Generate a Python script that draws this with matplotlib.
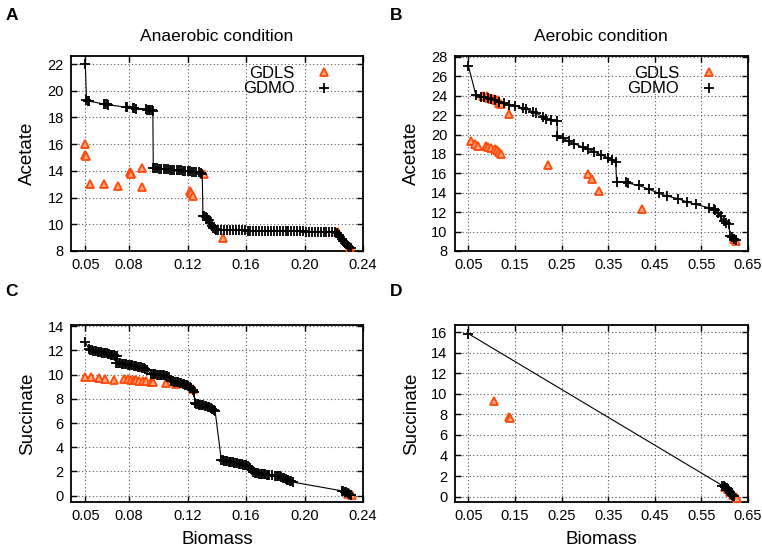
import matplotlib
matplotlib.use("Agg")
import matplotlib.pyplot as plt
from matplotlib.lines import Line2D

plt.rcParams['font.family'] = ['Liberation Sans', 'DejaVu Sans']

# ---------------- Panel A: anaerobic, acetate ----------------
a_mo_x = [0.0500, 0.0508, 0.0515, 0.0525, 0.0630, 0.0638, 0.0645, 0.0652, 0.0775, 0.0785,
          0.0825, 0.0835, 0.0845, 0.0915, 0.0925, 0.0935, 0.0945, 0.0955, 0.0962,
          0.0965, 0.0975, 0.0990, 0.1005, 0.1020, 0.1035, 0.1050, 0.1065, 0.1080, 0.1095,
          0.1110, 0.1125, 0.1140, 0.1155, 0.1170, 0.1185, 0.1200, 0.1215, 0.1230, 0.1245,
          0.1260, 0.1275, 0.1290, 0.1300,
          0.1305, 0.1315, 0.1325, 0.1335, 0.1345, 0.1355, 0.1365, 0.1375, 0.1385, 0.1395,
          0.141, 0.143, 0.145, 0.147, 0.149, 0.151, 0.153, 0.155, 0.157, 0.159,
          0.161, 0.163, 0.165, 0.167, 0.169, 0.171, 0.173, 0.175, 0.177, 0.179,
          0.181, 0.183, 0.185, 0.187, 0.189, 0.191, 0.193, 0.195, 0.197, 0.199,
          0.201, 0.203, 0.205, 0.207, 0.209, 0.211, 0.213, 0.215, 0.217, 0.219, 0.221,
          0.2225, 0.2235, 0.2245, 0.2255, 0.2265, 0.2275, 0.2285, 0.2295, 0.2305, 0.2315]
a_mo_y = [22.00, 19.30, 19.25, 19.22, 19.00, 18.98, 18.97, 18.95, 18.78, 18.76,
          18.70, 18.68, 18.66, 18.60, 18.58, 18.56, 18.55, 18.53, 18.50,
          14.25, 14.20, 14.19, 14.17, 14.15, 14.14, 14.12, 14.11, 14.10, 14.08,
          14.07, 14.06, 14.04, 14.03, 14.01, 14.00, 13.99, 13.97, 13.95, 13.93,
          13.91, 13.88, 13.84, 13.80,
          10.65, 10.60, 10.55, 10.50, 10.30, 10.10, 9.90, 9.75, 9.62, 9.58,
          9.57, 9.57, 9.56, 9.56, 9.56, 9.55, 9.55, 9.55, 9.54, 9.54,
          9.53, 9.53, 9.53, 9.52, 9.52, 9.51, 9.51, 9.50, 9.50, 9.50,
          9.49, 9.49, 9.48, 9.48, 9.48, 9.47, 9.47, 9.46, 9.46, 9.46,
          9.45, 9.45, 9.44, 9.44, 9.44, 9.43, 9.43, 9.42, 9.42, 9.41, 9.40,
          9.35, 9.20, 9.05, 8.90, 8.75, 8.62, 8.50, 8.40, 8.30, 8.25]
a_ls_x = [0.0500, 0.0500, 0.0502, 0.0535, 0.0630, 0.0722, 0.0805, 0.0810, 0.0815, 0.0888,
          0.0888, 0.1215, 0.1220, 0.1235, 0.1310, 0.1440, 0.2230, 0.2310]
a_ls_y = [16.00, 15.20, 15.10, 13.00, 13.00, 12.90, 13.90, 13.85, 13.80, 14.25,
          12.80, 12.50, 12.35, 12.15, 13.80, 9.00, 9.40, 8.30]

# ---------------- Panel B: aerobic, acetate ----------------
b_mo_x = [0.050, 0.066, 0.077, 0.084, 0.091, 0.099, 0.106, 0.116, 0.127, 0.138, 0.149,
          0.166, 0.174, 0.188, 0.195, 0.209, 0.216, 0.227, 0.240,
          0.241, 0.252, 0.266, 0.277, 0.295, 0.306, 0.320, 0.334, 0.349, 0.359, 0.366,
          0.368, 0.388, 0.392, 0.416, 0.438, 0.459, 0.477, 0.499, 0.520, 0.538, 0.566,
          0.576, 0.580, 0.586, 0.591, 0.598, 0.603, 0.609,
          0.611, 0.616, 0.620, 0.624]
b_mo_y = [27.05, 24.05, 23.92, 23.85, 23.78, 23.65, 23.55, 23.35, 23.25, 23.10, 22.95,
          22.75, 22.62, 22.35, 22.22, 21.85, 21.65, 21.55, 21.40,
          19.85, 19.62, 19.30, 19.05, 18.72, 18.52, 18.22, 17.92, 17.62, 17.42, 17.22,
          15.10, 15.10, 15.00, 14.76, 14.35, 13.94, 13.66, 13.40, 13.04, 12.80, 12.46,
          12.35, 12.20, 11.90, 11.60, 11.10, 10.90, 10.75,
          9.55, 9.40, 9.25, 9.10]
b_ls_x = [0.082, 0.089, 0.095, 0.100, 0.105, 0.110, 0.114, 0.116, 0.120, 0.1364,
          0.0557, 0.0640, 0.0700, 0.0880, 0.0910, 0.0990, 0.1060, 0.1110, 0.1160, 0.1200,
          0.2200, 0.3070, 0.3160, 0.3310, 0.4220, 0.6200, 0.6240]
b_ls_y = [24.00, 23.95, 23.80, 23.70, 23.65, 23.60, 23.55, 23.27, 23.20, 22.17,
          19.30, 18.98, 18.80, 18.87, 18.75, 18.60, 18.50, 18.40, 18.20, 17.95,
          16.82, 15.96, 15.38, 14.17, 12.29, 9.20, 9.05]

# ---------------- Panel C: anaerobic, succinate ----------------
c_mo_x = [0.0500,
          0.0525, 0.0535, 0.0545, 0.0555, 0.0565, 0.0575, 0.0585, 0.0595, 0.0605, 0.0615,
          0.0625, 0.0635, 0.0645, 0.0655, 0.0665, 0.0675, 0.0685, 0.0695, 0.0705, 0.0715,
          0.0710, 0.0720, 0.0730, 0.0740, 0.0750, 0.0760, 0.0770, 0.0780, 0.0790, 0.0800,
          0.0810, 0.0820, 0.0830, 0.0840, 0.0850, 0.0860, 0.0870, 0.0880, 0.0890, 0.0900,
          0.0910, 0.0920,
          0.0950, 0.0960, 0.0970, 0.0980, 0.0990, 0.1000, 0.1010, 0.1020, 0.1030, 0.1040,
          0.1050, 0.1060, 0.1070,
          0.1085, 0.1095, 0.1105, 0.1115, 0.1125, 0.1135, 0.1145, 0.1155, 0.1165, 0.1175,
          0.1185, 0.1195, 0.1205, 0.1215, 0.1225, 0.1235, 0.1245,
          0.1248, 0.1258, 0.1268, 0.1278, 0.1288, 0.1298, 0.1308, 0.1318, 0.1328, 0.1338,
          0.1348, 0.1358, 0.1368, 0.1378, 0.1388,
          0.1430, 0.1440, 0.1450, 0.1460, 0.1470, 0.1480, 0.1490, 0.1500, 0.1510, 0.1520,
          0.1530, 0.1540, 0.1550, 0.1560, 0.1570, 0.1580, 0.1590, 0.1600, 0.1610, 0.1620,
          0.1630, 0.1640, 0.1650, 0.1660, 0.1670, 0.1680, 0.1690, 0.1700, 0.1710, 0.1720,
          0.1730, 0.1740, 0.1750, 0.1760, 0.1780, 0.1800, 0.1810, 0.1820, 0.1830, 0.1840,
          0.1850, 0.1860, 0.1870, 0.1880, 0.1890, 0.1900, 0.1910, 0.1920,
          0.2255, 0.2265, 0.2275, 0.2285, 0.2295, 0.2305, 0.2315, 0.2320]
c_mo_y = [12.70,
          12.10, 12.05, 12.02, 11.99, 11.96, 11.93, 11.90, 11.87, 11.85, 11.82,
          11.80, 11.77, 11.75, 11.72, 11.69, 11.66, 11.63, 11.60, 11.55, 11.50,
          11.00, 10.97, 10.95, 10.92, 10.90, 10.88, 10.86, 10.84, 10.82, 10.80,
          10.78, 10.76, 10.74, 10.72, 10.69, 10.66, 10.63, 10.60, 10.56, 10.52,
          10.47, 10.42,
          10.05, 10.04, 10.03, 10.02, 10.01, 10.00, 9.99, 9.98, 9.96, 9.94,
          9.91, 9.87, 9.82,
          9.48, 9.45, 9.43, 9.41, 9.39, 9.36, 9.33, 9.30, 9.26, 9.22,
          9.17, 9.11, 9.04, 8.96, 8.86, 8.74, 8.60,
          7.65, 7.58, 7.55, 7.52, 7.50, 7.48, 7.46, 7.43, 7.40, 7.36,
          7.31, 7.25, 7.18, 7.10, 7.02,
          2.98, 2.93, 2.90, 2.86, 2.83, 2.81, 2.80, 2.78, 2.75, 2.72,
          2.70, 2.68, 2.65, 2.62, 2.60, 2.57, 2.54, 2.50, 2.45, 2.38,
          2.25, 2.08, 1.95, 1.90, 1.87, 1.85, 1.83, 1.82, 1.80, 1.78,
          1.76, 1.74, 1.72, 1.70, 1.68, 1.66, 1.65, 1.63, 1.60, 1.55,
          1.48, 1.42, 1.37, 1.32, 1.27, 1.22, 1.17, 1.12,
          0.40, 0.36, 0.32, 0.27, 0.20, 0.12, 0.06, 0.02]
c_ls_x = [0.0500, 0.0539, 0.0596, 0.0637, 0.0699, 0.0767, 0.0790, 0.0813, 0.0830, 0.0847,
          0.0870, 0.0893, 0.0916, 0.0950, 0.0961, 0.1053, 0.1121, 0.1240, 0.2300, 0.2325]
c_ls_y = [9.83, 9.77, 9.69, 9.64, 9.55, 9.60, 9.60, 9.55, 9.57, 9.55,
          9.50, 9.47, 9.44, 9.42, 9.40, 9.28, 9.22, 8.85, 0.15, 0.05]

# ---------------- Panel D: aerobic, succinate ----------------
d_mo_x = [0.050, 0.595, 0.598, 0.601, 0.604, 0.606, 0.608, 0.610, 0.612, 0.614, 0.616, 0.618, 0.620]
d_mo_y = [15.85, 1.07, 0.98, 0.90, 0.85, 0.78, 0.60, 0.50, 0.38, 0.25, 0.12, 0.05, 0.02]
d_ls_x = [0.1057, 0.1379, 0.1390, 0.600, 0.607, 0.612, 0.618, 0.624, 0.627]
d_ls_y = [9.33, 7.77, 7.62, 0.95, 0.70, 0.45, 0.20, 0.00, -0.10]

labels = ["GDLS", "GDMO"]
titles = ["Anaerobic condition", "Aerobic condition"]
panel_letters = ["A", "B", "C", "D"]

ORANGE = '#ff4a0a'
ORANGE_FILL = '#ffa47a'

fig = plt.figure(figsize=(7.62, 5.53), dpi=100)
W, H = 762.0, 553.0

def make_ax(l, r, t, b):
    return fig.add_axes([l / W, 1 - b / H, (r - l) / W, (b - t) / H])

axA = make_ax(70.7, 363.0, 56.0, 251.0)
axB = make_ax(454.5, 748.0, 56.0, 251.0)
axC = make_ax(70.7, 363.0, 325.0, 501.7)
axD = make_ax(454.5, 748.0, 325.0, 501.7)

panels = [
    (axA, a_mo_x, a_mo_y, a_ls_x, a_ls_y),
    (axB, b_mo_x, b_mo_y, b_ls_x, b_ls_y),
    (axC, c_mo_x, c_mo_y, c_ls_x, c_ls_y),
    (axD, d_mo_x, d_mo_y, d_ls_x, d_ls_y),
]

for ax, mx, my, lx, ly in panels:
    ax.plot(lx, ly, linestyle='none', marker='^', markersize=6.2,
            markerfacecolor=ORANGE_FILL, markeredgecolor=ORANGE, markeredgewidth=1.3, zorder=3)
    ax.plot(mx, my, color='black', linewidth=0.8, zorder=4)
    ax.plot(mx, my, linestyle='none', marker='+', markersize=6.5,
            color='black', markeredgewidth=1.3, zorder=5)
    ax.grid(True, color='#555555', linestyle=(0, (1, 2.2)), linewidth=0.8)
    ax.set_axisbelow(True)
    ax.tick_params(direction='in', top=True, right=True, length=4, width=1,
                   labelsize=10.5, pad=5)
    for s in ax.spines.values():
        s.set_linewidth(1.3)

for ax in (axA, axC):
    ax.set_xlim(0.04, 0.24)
    ax.set_xticks([0.05, 0.08, 0.12, 0.16, 0.20, 0.24])
    ax.set_xticklabels(["0.05", "0.08", "0.12", "0.16", "0.20", "0.24"])
for ax in (axB, axD):
    ax.set_xlim(0.02, 0.65)
    ax.set_xticks([0.05, 0.15, 0.25, 0.35, 0.45, 0.55, 0.65])
    ax.set_xticklabels(["0.05", "0.15", "0.25", "0.35", "0.45", "0.55", "0.65"])

axA.set_ylim(8, 22.6)
axA.set_yticks(range(8, 23, 2))
axB.set_ylim(8, 28.1)
axB.set_yticks(range(8, 29, 2))
axC.set_ylim(-0.5, 14.1)
axC.set_yticks(range(0, 15, 2))
axD.set_ylim(-0.5, 16.7)
axD.set_yticks(range(0, 17, 2))

for ax in (axA, axB):
    ax.set_ylabel("Acetate", fontsize=13.5, labelpad=8)
for ax in (axC, axD):
    ax.set_ylabel("Succinate", fontsize=13.5, labelpad=8)
    ax.set_xlabel("Biomass", fontsize=13.5, labelpad=6)

axA.set_title(titles[0], fontsize=12.5, pad=11)
axB.set_title(titles[1], fontsize=12.5, pad=11)

for ax in (axA, axB):
    h1 = Line2D([], [], linestyle='none', marker='^', markersize=6.2,
                markerfacecolor=ORANGE_FILL, markeredgecolor=ORANGE, markeredgewidth=1.3)
    h2 = Line2D([], [], linestyle='none', marker='+', markersize=6.5,
                color='black', markeredgewidth=1.3)
    ax.legend([h1, h2], labels, loc='upper right', bbox_to_anchor=(0.925, 0.985),
              frameon=False, markerfirst=False, fontsize=12, handlelength=1.2,
              handletextpad=1.2, labelspacing=0.05, borderaxespad=0.0)

for (xp, yp), letter in zip([(12, 15), (396, 15), (12, 292), (396, 292)], panel_letters):
    fig.text(xp / W, 1 - yp / H, letter, fontsize=12.5, fontweight='bold',
             ha='center', va='center')

fig.savefig("out.png", dpi=100)
